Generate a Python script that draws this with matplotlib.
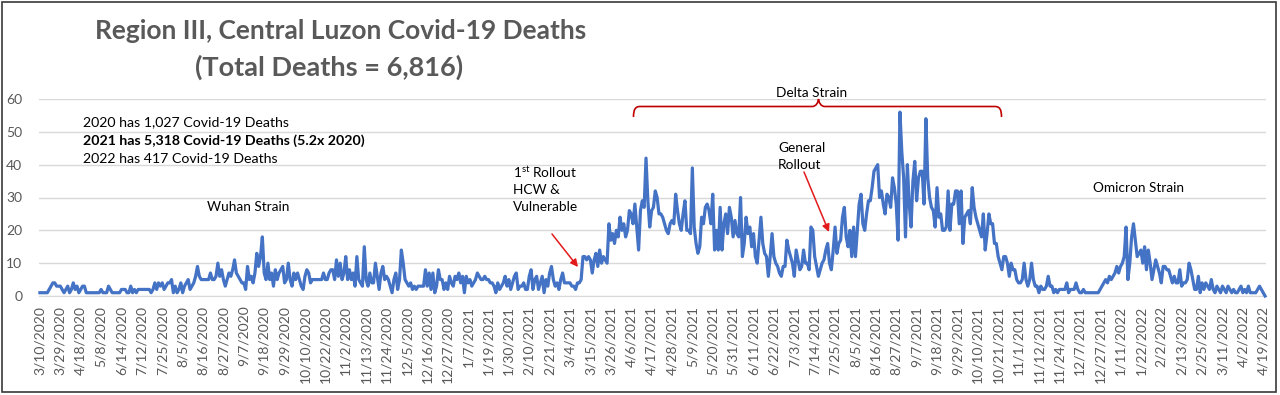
import numpy as np
import matplotlib.pyplot as plt
from matplotlib.path import Path
from matplotlib.patches import PathPatch, Rectangle

# daily deaths, one value per reported day (category axis)
deaths_2020 = [1, 1, 1, 1, 1, 2, 3, 4, 4, 3, 3,
               3, 2, 1, 2, 3, 1, 2, 4, 2, 3, 1,
               2, 3, 3, 1, 1, 1, 1, 1, 1, 1, 1,
               2, 1, 1, 1, 3, 2, 1, 1, 1, 1, 1,
               2, 2, 2, 1, 1, 3, 1, 2, 1, 2, 2,
               2, 2, 2, 2, 2, 1, 2, 4, 2, 4, 3,
               4, 2, 3, 4, 4, 5, 1, 3, 1, 2, 4,
               1, 3, 4, 5, 2, 3, 4, 6, 9, 6, 5,
               5, 5, 5, 5, 7, 5, 5, 6, 10, 6, 8,
               5, 3, 5, 7, 6, 8, 11, 7, 6, 5, 4,
               4, 2, 9, 5, 6, 4, 7, 13, 9, 12, 18,
               7, 5, 10, 5, 7, 3, 8, 5, 7, 8, 9,
               4, 5, 10, 5, 3, 7, 5, 7, 5, 3, 2,
               6, 8, 7, 4, 5, 5, 5, 5, 5, 5, 7,
               5, 5, 7, 8, 8, 5, 11, 6, 10, 5, 7,
               12, 5, 8, 5, 7, 3, 12, 5, 4, 3, 15,
               5, 3, 7, 4, 4, 10, 6, 2, 7, 9, 5,
               6, 5, 3, 1, 5, 7, 2, 5, 14, 10, 5,
               4, 3, 4, 2, 3, 2, 3, 3, 3, 3, 8,
               3, 7, 2, 7, 1, 3, 8, 5, 5, 2, 4,
               2, 6, 4, 3, 6]
deaths_2021 = [5, 7, 4, 6, 1, 6,
               4, 5, 3, 4, 5, 7, 6, 5, 5, 6, 5,
               5, 4, 4, 3, 1, 4, 2, 3, 4, 6, 3,
               5, 2, 4, 6, 7, 2, 3, 3, 4, 2, 2,
               6, 8, 2, 5, 6, 2, 4, 6, 1, 5, 3,
               7, 9, 5, 3, 4, 2, 5, 7, 4, 4, 4,
               4, 3, 3, 2, 4, 4, 5, 12, 12, 11, 12,
               11, 7, 11, 13, 9, 14, 10, 12, 11, 10, 22,
               17, 19, 16, 20, 18, 24, 20, 22, 18, 20, 26,
               25, 22, 28, 21, 14, 26, 29, 27, 42, 29, 21,
               26, 27, 32, 30, 25, 25, 24, 22, 20, 19, 22,
               23, 22, 31, 26, 22, 20, 25, 29, 20, 20, 19,
               39, 21, 16, 13, 15, 24, 22, 27, 28, 26, 22,
               31, 14, 20, 14, 27, 14, 22, 25, 19, 27, 24,
               18, 23, 19, 18, 30, 12, 16, 24, 19, 21, 15,
               19, 12, 10, 17, 24, 16, 13, 12, 6, 12, 19,
               12, 10, 9, 7, 6, 9, 9, 17, 14, 12, 10,
               6, 14, 11, 8, 9, 14, 10, 10, 8, 21, 20,
               12, 9, 6, 8, 10, 11, 14, 16, 10, 8, 14,
               21, 13, 16, 17, 24, 27, 18, 15, 20, 12, 21,
               12, 20, 28, 31, 22, 20, 25, 29, 29, 33, 38,
               39, 40, 30, 32, 28, 25, 31, 30, 27, 36, 33,
               28, 17, 56, 44, 36, 18, 40, 28, 21, 35, 41,
               29, 36, 38, 38, 28, 54, 36, 30, 27, 26, 21,
               33, 24, 25, 20, 20, 21, 32, 20, 28, 28, 32,
               32, 22, 32, 16, 24, 25, 26, 22, 33, 27, 24,
               22, 20, 18, 25, 14, 19, 25, 22, 22, 16, 16,
               12, 10, 8, 12, 12, 10, 6, 10, 8, 8, 5,
               4, 4, 5, 10, 5, 3, 5, 10, 5, 3, 3,
               1, 3, 2, 2, 3, 6, 3, 3, 1, 2, 1,
               2, 2, 2, 2, 4, 1, 2, 2, 2, 4, 2,
               1, 1, 2, 1, 1, 1, 1, 1, 1, 1, 1,
               2, 3, 4, 5, 4]
deaths_2022 = [6, 5, 6, 7, 9, 7,
               9, 10, 12, 21, 5, 10, 18, 22, 17, 12, 13,
               14, 10, 15, 8, 14, 10, 5, 8, 11, 9, 7,
               4, 9, 9, 8, 8, 6, 4, 6, 4, 4, 8,
               3, 4, 4, 5, 10, 8, 5, 2, 2, 6, 1,
               4, 2, 4, 3, 2, 5, 2, 1, 3, 2, 1,
               3, 2, 1, 3, 2, 1, 2, 1, 1, 2, 3,
               1, 2, 1, 3, 1, 1, 1, 1, 2, 3, 2,
               1, 0]

tick_labels = ["3/10/2020", "3/29/2020", "4/18/2020", "5/8/2020", "6/14/2020",
               "7/12/2020", "7/25/2020", "8/5/2020", "8/16/2020", "8/27/2020",
               "9/7/2020", "9/18/2020", "9/29/2020", "10/10/2020", "10/22/2020",
               "11/2/2020", "11/13/2020", "11/24/2020", "12/5/2020", "12/16/2020",
               "12/27/2020", "1/7/2021", "1/19/2021", "1/30/2021", "2/10/2021",
               "2/21/2021", "3/4/2021", "3/15/2021", "3/26/2021", "4/6/2021",
               "4/17/2021", "4/28/2021", "5/9/2021", "5/20/2021", "5/31/2021",
               "6/11/2021", "6/22/2021", "7/3/2021", "7/14/2021", "7/25/2021",
               "8/5/2021", "8/16/2021", "8/27/2021", "9/7/2021", "9/18/2021",
               "9/29/2021", "10/10/2021", "10/21/2021", "11/1/2021", "11/12/2021",
               "11/24/2021", "12/7/2021", "12/27/2021", "1/11/2022", "1/22/2022",
               "2/2/2022", "2/13/2022", "2/25/2022", "3/11/2022", "4/2/2022",
               "4/19/2022"]

year_notes = ["2020 has 1,027 Covid-19 Deaths",
              "2021 has 5,318 Covid-19 Deaths (5.2x 2020)",
              "2022 has 417 Covid-19 Deaths"]

deaths = deaths_2020 + deaths_2021 + deaths_2022
days = np.arange(len(deaths))

plt.rcParams['font.family'] = ['Lato', 'DejaVu Sans']
plt.rcParams['mathtext.default'] = 'regular'

W, H = 1280, 395
def fx(x):
    return x / W
def fy(y):
    return 1 - y / H

fig = plt.figure(figsize=(12.8, 3.95), dpi=100)
ax = fig.add_axes([fx(39), fy(296), (1266 - 39) / W, (296 - 99) / H])

ax.plot(days, deaths, color='#4472C4', lw=2.3, clip_on=False, zorder=3)
ax.set_xlim(-0.5, len(deaths) - 0.5)
ax.set_ylim(0, 60)
ax.set_yticks(range(0, 61, 10))
ax.set_xticks(days[::11])
ax.set_xticklabels(tick_labels, rotation=90)
ax.tick_params(axis='both', length=0, labelsize=10, labelcolor='#595959')
ax.tick_params(axis='y', pad=12)
ax.tick_params(axis='x', pad=7)
ax.grid(axis='y', color='#d9d9d9', lw=1)
ax.set_axisbelow(True)
for s in ['left', 'right', 'top']:
    ax.spines[s].set_visible(False)
ax.spines['bottom'].set_color('#d9d9d9')

# title
fig.text(fx(341), fy(31), "Region III, Central Luzon Covid-19 Deaths", ha='center', va='center',
         fontsize=19, fontweight='bold', color='#595959')
fig.text(fx(329), fy(67), "(Total Deaths = 6,816)", ha='center', va='center',
         fontsize=19.5, fontweight='bold', color='#595959')

# yearly totals
for i, note in enumerate(year_notes):
    fig.text(fx(83), fy([122, 141, 159][i]), note, ha='left', va='center', fontsize=10.2,
             fontweight='bold' if i == 1 else 'normal', color='black')

fs = 9.8
fig.text(fx(207), fy(207), "Wuhan Strain", ha='left', va='center', fontsize=fs)
fig.text(fx(513), fy(172), "1$^{st}$ Rollout", ha='left', va='center', fontsize=fs)
fig.text(fx(513), fy(190), "HCW &", ha='left', va='center', fontsize=fs)
fig.text(fx(513), fy(207), "Vulnerable", ha='left', va='center', fontsize=fs)
fig.text(fx(812), fy(93), "Delta Strain", ha='center', va='center', fontsize=fs)
fig.text(fx(778), fy(148), "General", ha='left', va='center', fontsize=fs)
fig.text(fx(778), fy(165), "Rollout", ha='left', va='center', fontsize=fs)
fig.text(fx(1093), fy(188), "Omicron Strain", ha='left', va='center', fontsize=fs)

# red arrows
arrow = dict(arrowstyle='-|>', color='#E31A1C', lw=1.1, mutation_scale=11, shrinkA=0, shrinkB=0)
ax.annotate('', xy=(fx(578), fy(267)), xytext=(fx(552), fy(234)),
            xycoords='figure fraction', textcoords='figure fraction', arrowprops=arrow)
ax.annotate('', xy=(fx(829), fy(232)), xytext=(fx(804), fy(172)),
            xycoords='figure fraction', textcoords='figure fraction', arrowprops=arrow)

# brace over the delta wave
pts = [(633.5, 117), (633.5, 110), (635, 106.5), (640, 106.5),
       (812, 106.5),
       (816, 106.5), (818, 103), (818.5, 99),
       (819, 103), (821, 106.5), (825, 106.5),
       (995, 106.5),
       (1000, 106.5), (1001.5, 110), (1001.5, 117)]
codes = [Path.MOVETO, Path.CURVE4, Path.CURVE4, Path.CURVE4,
         Path.LINETO,
         Path.CURVE4, Path.CURVE4, Path.CURVE4,
         Path.CURVE4, Path.CURVE4, Path.CURVE4,
         Path.LINETO,
         Path.CURVE4, Path.CURVE4, Path.CURVE4]
brace = Path([(fx(x), fy(y)) for x, y in pts], codes)
fig.patches.append(PathPatch(brace, transform=fig.transFigure, fill=False,
                             edgecolor='#C00000', lw=1.2))

# chart border
fig.patches.append(Rectangle((fx(1.5), fy(391.5)), (1276 - 1.5) / W, (391.5 - 1.5) / H,
                             transform=fig.transFigure, fill=False, edgecolor='#3a3a3a', lw=1.2))

fig.savefig('out.png', dpi=100, facecolor='white')
